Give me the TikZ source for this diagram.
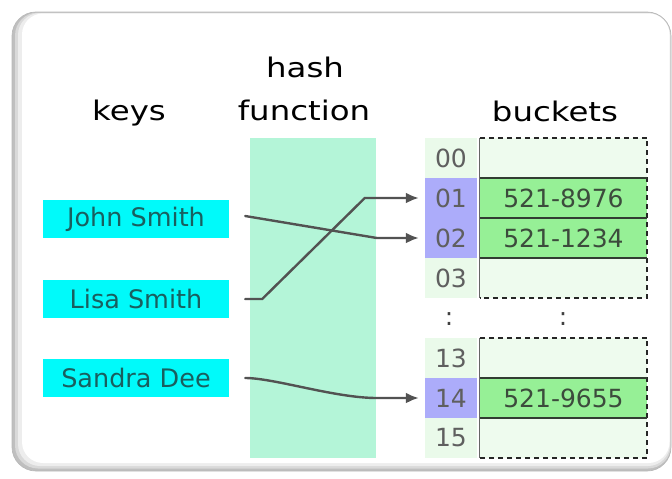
\documentclass[tikz,border=0pt]{standalone}
\usepackage{fontspec}
\setmainfont{DejaVu Sans}
\usetikzlibrary{arrows.meta,calc}
\definecolor{keycyan}{RGB}{0,250,250}
\definecolor{keytext}{RGB}{25,95,95}
\definecolor{hashcol}{RGB}{180,245,216}
\definecolor{idxblue}{RGB}{172,172,250}
\definecolor{idxgreen}{RGB}{234,250,234}
\definecolor{bfull}{RGB}{150,240,150}
\definecolor{bempty}{RGB}{238,251,238}
\definecolor{idxtext}{RGB}{95,95,95}
\definecolor{btext}{RGB}{60,75,60}
\definecolor{bline}{RGB}{50,60,50}
\begin{document}
\begin{tikzpicture}[x=1pt,y=-1pt,
  title/.style={anchor=base, inner sep=0, text=black, font=\fontsize{27}{30}\selectfont},
  keybox/.style={fill=keycyan, minimum width=186, minimum height=38, inner sep=0, text=keytext, font=\fontsize{25.5}{28}\selectfont},
  hashbox/.style={fill=hashcol, minimum width=126, minimum height=320, inner sep=0},
  idxcell/.style={minimum width=52, minimum height=40, inner sep=0, text=idxtext, font=\fontsize{25}{28}\selectfont},
  idxfree/.style={idxcell, fill=idxgreen},
  idxused/.style={idxcell, fill=idxblue},
  bucket/.style={minimum width=167, minimum height=40, inner sep=0, text=btext, font=\fontsize{25}{28}\selectfont},
  bfree/.style={bucket, fill=bempty},
  bused/.style={bucket, fill=bfull},
  dotsnode/.style={inner sep=0, text=black!75, font=\fontsize{25}{28}\selectfont},
  bdash/.style={draw=black!85, line width=2.2, dash pattern=on 5pt off 4pt},
  bleft/.style={draw=black!60, line width=0.9},
  bdiv/.style={draw=bline, line width=2.2},
  conn/.style={draw=black!68, line width=2.4, line cap=round, -{Latex[length=13,width=11]}}
]
\useasboundingbox (0,0) rectangle (672,479);
% frame with soft shadow on left and bottom
\fill[gray!50, rounded corners=24] (12,12) rectangle (671,471);
\fill[gray!30, rounded corners=23] (15,12.5) rectangle (671,468.5);
\fill[gray!14, rounded corners=22] (18,13) rectangle (670,466);
\fill[white, rounded corners=21] (22,13.5) rectangle (669.5,463);
\draw[gray!55, line width=0.7, rounded corners=24] (12,12) rectangle (671,471);

% titles
\node[title] (tkeys) at (129,120) {\scalebox{1.2}[1]{keys}};
\node[title] (thash) at (305,77) {\scalebox{1.2}[1]{hash}};
\node[title] (tfunc) at (304,120) {\scalebox{1.2}[1]{function}};
\node[title] (tbuck) at (555,121) {\scalebox{1.2}[1]{buckets}};

% hash function column
\node[hashbox] (hashfn) at (313,298) {};

% keys
\node[keybox] (john) at (136,219) {John Smith};
\node[keybox] (lisa) at (136,299) {Lisa Smith};
\node[keybox] (sandra) at (136,378) {Sandra Dee};

% indices
\node[idxfree] (i00) at (451,158) {00};
\node[idxused] (i01) at (451,198) {01};
\node[idxused] (i02) at (451,238) {02};
\node[idxfree] (i03) at (451,278) {03};
\node[dotsnode] (idots) at (449,319) {:};
\node[idxfree] (i13) at (451,358) {13};
\node[idxused] (i14) at (451,398) {14};
\node[idxfree] (i15) at (451,438) {15};

% buckets
\node[bfree] (b00) at (563.5,158) {};
\node[bused] (b01) at (563.5,198) {521-8976};
\node[bused] (b02) at (563.5,238) {521-1234};
\node[bfree] (b03) at (563.5,278) {};
\node[dotsnode] (bdots) at (563,319) {:};
\node[bfree] (b13) at (563.5,358) {};
\node[bused] (b14) at (563.5,398) {521-9655};
\node[bfree] (b15) at (563.5,438) {};

% bucket borders
\draw[bdash] (b00.north west) -- (b00.north east) -- (b03.south east) -- (b03.south west);
\draw[bleft] (b00.north west) -- (b03.south west);
\draw[bdiv] (b01.north west) -- (b01.north east);
\draw[bdiv] (b02.north west) -- (b02.north east);
\draw[bdiv] (b02.south west) -- (b02.south east);
\draw[bdash] (b13.north west) -- (b13.north east) -- (b15.south east) -- (b15.south west);
\draw[bleft] (b13.north west) -- (b15.south west);
\draw[bdiv] (b14.north west) -- (b14.north east);
\draw[bdiv] (b14.south west) -- (b14.south east);

% connectors
\draw[conn] ([shift={(16,-3)}]john.east) -- ([xshift=-48]i02.west) -- ([xshift=-6]i02.west);
\draw[conn] ([xshift=16]lisa.east) -- ([xshift=33]lisa.east) -- ([xshift=-60]i01.west) -- ([xshift=-6]i01.west);
\draw[conn] ([xshift=16]sandra.east) .. controls ([xshift=45]sandra.east) and ([xshift=-90]i14.west) .. ([xshift=-48]i14.west) -- ([xshift=-6]i14.west);
\end{tikzpicture}
\end{document}
